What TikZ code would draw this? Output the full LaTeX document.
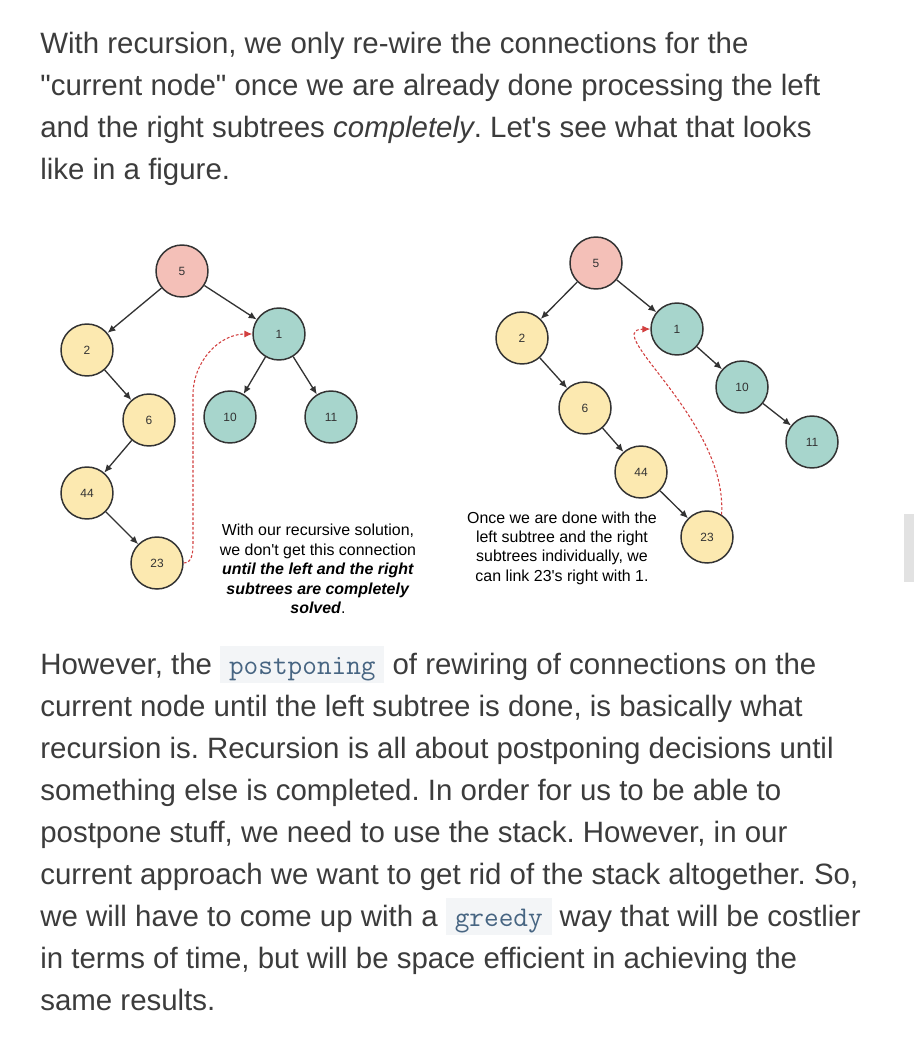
\documentclass[tikz,border=0pt]{standalone}
\usepackage{fontspec}
\setmainfont{Liberation Sans}
\usepackage{xcolor}
\usepackage{tikz}
\usetikzlibrary{arrows.meta}
\definecolor{encre}{HTML}{3C3C3C}
\definecolor{trait}{HTML}{333333}
\definecolor{rose}{HTML}{F4C0B8}
\definecolor{jaune}{HTML}{FCE9B0}
\definecolor{vert}{HTML}{A7D5CC}
\definecolor{rouge}{HTML}{D23F3F}
\definecolor{fondcode}{HTML}{F3F5F7}
\definecolor{encrecode}{HTML}{476582}
\definecolor{barre}{HTML}{E2E2E2}
\newcommand\codebit[1]{{\setlength{\fboxsep}{0pt}\colorbox{fondcode}{\hspace{5pt}\rule[-5.1pt]{0pt}{21pt}\textcolor{encrecode}{\ttfamily\fontsize{16.2}{18}\selectfont #1}\hspace{5pt}}}}
\frenchspacing

\begin{document}
\begin{tikzpicture}[x=0.02cm,y=-0.02cm]
% Styles (MODIFIABLES)
\tikzstyle{fleche}=[-{Latex[length=4.5pt,width=4pt]},line width=0.75pt,trait]
\tikzstyle{lien}=[-{Latex[length=4.5pt,width=4pt]},line width=0.6pt,rouge,dash pattern=on 1.6pt off 1.1pt]
\tikzstyle{noeud}=[circle,draw=trait,line width=0.85pt,minimum size=1.04cm,inner sep=0pt,text=trait,font=\fontsize{6.8}{8}\selectfont]
\tikzstyle{racine}=[noeud,fill=rose]
\tikzstyle{gauche}=[noeud,fill=jaune]
\tikzstyle{droite}=[noeud,fill=vert]
\tikzstyle{texte}=[anchor=base west,inner sep=0pt,text=encre,font=\fontsize{16.75}{20}\selectfont]
\tikzstyle{legende}=[align=center,inner sep=0pt,text=black,font=\fontsize{9.07}{11.05}\selectfont]
% Cadre
\useasboundingbox[fill=white] (0,0) rectangle (914,1044);
\fill[barre] (904,514) rectangle (914,582);
% Texte du haut
\node[texte] (T1) at (40,54) {With recursion, we only re-wire the connections for the};
\node[texte] (T2) at (40,96) {\textquotedbl current node\textquotedbl{} once we are already done processing the left};
\node[texte] (T3) at (40,138) {and the right subtrees \textit{completely}. Let\textquotesingle s see what that looks};
\node[texte] (T4) at (40,180) {like in a figure.};
% Arbre de gauche
\node[racine] (G) at (182,271) {5};
\node[gauche] (Ga) at (87,350) {2};
\node[gauche] (Gab) at (149,420) {6};
\node[gauche] (Gaba) at (87,493) {44};
\node[gauche] (Gabab) at (157,563) {23};
\node[droite] (Gb) at (279,334) {1};
\node[droite] (Gba) at (230,417) {10};
\node[droite] (Gbb) at (331,417) {11};
\draw[fleche] (G)--(Ga);
\draw[fleche] (Ga)--(Gab);
\draw[fleche] (Gab)--(Gaba);
\draw[fleche] (Gaba)--(Gabab);
\draw[fleche] (G)--(Gb);
\draw[fleche] (Gb)--(Gba);
\draw[fleche] (Gb)--(Gbb);
\draw[lien] (Gabab.east) to[out=0,in=-90] (193,540) -- (193,395) to[out=90,in=180] (Gb.west);
\node[legende] (LG) at (318,569) {With our recursive solution,\\we don\textquotesingle t get this connection\\\textbf{\textit{until the left and the right}}\\\textbf{\textit{subtrees are completely}}\\\textbf{\textit{solved}}.};
% Arbre de droite
\node[racine] (D) at (596,263) {5};
\node[gauche] (Da) at (522,338) {2};
\node[gauche] (Dab) at (585,408) {6};
\node[gauche] (Dabb) at (641,472) {44};
\node[gauche] (Dabbb) at (707,537) {23};
\node[droite] (Db) at (677,329) {1};
\node[droite] (Dbb) at (742,387) {10};
\node[droite] (Dbbb) at (812,442) {11};
\draw[fleche] (D)--(Da);
\draw[fleche] (Da)--(Dab);
\draw[fleche] (Dab)--(Dabb);
\draw[fleche] (Dabb)--(Dabbb);
\draw[fleche] (D)--(Db);
\draw[fleche] (Db)--(Dbb);
\draw[fleche] (Dbb)--(Dbbb);
\draw[lien] (Dabbb.57) .. controls (728,420) and (600,330) .. (Db.west);
\node[legende] (LD) at (562,548) {Once we are done with the\\left subtree and the right\\subtrees individually, we\\can link 23\textquotesingle s right with 1.};
% Texte du bas
\node[texte] (B1) at (40,674) {However, the \codebit{postponing} of rewiring of connections on the};
\node[texte] (B2) at (40,716) {current node until the left subtree is done, is basically what};
\node[texte] (B3) at (40,758) {recursion is. Recursion is all about postponing decisions until};
\node[texte] (B4) at (40,800) {something else is completed. In order for us to be able to};
\node[texte] (B5) at (40,842) {postpone stuff, we need to use the stack. However, in our};
\node[texte] (B6) at (40,884) {current approach we want to get rid of the stack altogether. So,};
\node[texte] (B7) at (40,926) {we will have to come up with a \codebit{greedy} way that will be costlier};
\node[texte] (B8) at (40,968) {in terms of time, but will be space efficient in achieving the};
\node[texte] (B9) at (40,1010) {same results.};
\end{tikzpicture}
\end{document}
